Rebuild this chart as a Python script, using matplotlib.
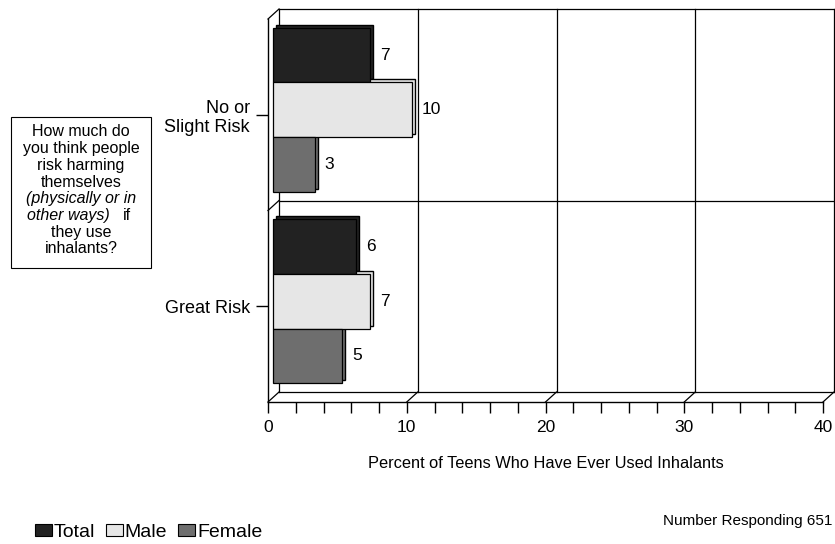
import matplotlib
matplotlib.use("Agg")
import matplotlib.pyplot as plt
import matplotlib.transforms as mtransforms
from matplotlib.patches import Patch, Rectangle
from matplotlib.lines import Line2D

plt.rcParams['font.family'] = ['Liberation Sans', 'DejaVu Sans']

categories = ["No or\nSlight Risk", "Great Risk"]
series_names = ["Total", "Male", "Female"]
total = [7, 6]
male = [10, 7]
female = [3, 5]
xticks = [0, 10, 20, 30, 40]
colors = ["#222222", "#e6e6e6", "#6e6e6e"]

W, H = 835, 544
fig = plt.figure(figsize=(W / 100, H / 100), dpi=100)

# front plane in pixel coordinates
fl, fr, ft, fb = 268, 823, 19, 402
ax = fig.add_axes([fl / W, (H - fb) / H, (fr - fl) / W, (fb - ft) / H])
ax.set_xlim(0, 40)
ax.set_ylim(0, 2)
ax.patch.set_visible(False)
for s in ["top", "right"]:
    ax.spines[s].set_visible(False)
for s in ["bottom", "left"]:
    ax.spines[s].set_linewidth(1.0)

ax.set_xticks(xticks)
ax.set_xticklabels([str(t) for t in xticks], fontsize=12.5)
ax.set_xticks(list(range(0, 41, 2)), minor=True)
ax.tick_params(axis='x', which='both', length=8, width=1, direction='out', pad=5)
ax.set_xlabel("Percent of Teens Who Have Ever Used Inhalants", fontsize=11.8, labelpad=15)

centers = [1.5, 0.5]
ax.set_yticks(centers)
ax.set_yticklabels(categories, fontsize=13, multialignment='right')
ax.tick_params(axis='y', length=9, width=1, direction='out', pad=4)

# back wall
bdx, bdy = 11, 10
tback = ax.transData + mtransforms.Affine2D().translate(bdx, bdy)
lkw = dict(color='black', lw=0.9, clip_on=False, transform=tback)
for yv in [0, 1, 2]:
    ax.plot([0, 40], [yv, yv], **lkw)
for xv in xticks:
    ax.plot([xv, xv], [0, 2], **lkw)

# diagonals connecting front and back
fig.canvas.draw()
diag_pts = [(xv, 0) for xv in xticks] + [(0, 1), (0, 2)]
for pt in diag_pts:
    p0 = ax.transData.transform(pt)
    fig.add_artist(Line2D([p0[0], p0[0] + bdx], [p0[1], p0[1] + bdy],
                          color='black', lw=0.9, transform=None))

# bars
h = 0.2846
sdx = 3
tbar = ax.transData + mtransforms.Affine2D().translate(5, 5)
tshadow = ax.transData + mtransforms.Affine2D().translate(5 + sdx, 5 + sdx)
for i, (vals, col) in enumerate(zip([total, male, female], colors)):
    ys = [c + h * (1 - i) for c in centers]
    ax.barh(ys, vals, height=h, left=0, color=col, edgecolor='black', lw=1.0,
            transform=tshadow, zorder=2, clip_on=False)
for i, (vals, col) in enumerate(zip([total, male, female], colors)):
    ys = [c + h * (1 - i) for c in centers]
    ax.barh(ys, vals, height=h, left=0, color=col, edgecolor='black', lw=0.9,
            transform=tbar, zorder=3, clip_on=False)
    for y, v in zip(ys, vals):
        ax.annotate(str(v), xy=(v, y), xycoords=tbar, xytext=(7, 0),
                    textcoords='offset points', ha='left', va='center',
                    fontsize=12.5, zorder=4)

# question box
bx0, bx1, by0, by1 = 11, 151, 117, 268
fig.add_artist(Rectangle((bx0 / W, 1 - by1 / H), (bx1 - bx0) / W, (by1 - by0) / H,
                         transform=fig.transFigure, facecolor='white',
                         edgecolor='black', lw=0.8))
lines = [("How much do", 'normal'), ("you think people", 'normal'),
         ("risk harming", 'normal'), ("themselves", 'normal'),
         ("(physically or in", 'italic'), (None, None),
         ("they use", 'normal'), ("inhalants?", 'normal')]
cx = (bx0 + bx1) / 2
bfs = 11.5
for k, (txt, st) in enumerate(lines):
    yy = 1 - (132 + k * 16.7) / H
    if txt is None:
        fig.text(110 / W, yy, "other ways)", ha='right', va='center',
                 fontsize=bfs, style='italic')
        fig.text(123 / W, yy, "if", ha='left', va='center', fontsize=bfs)
    else:
        fig.text(cx / W, yy, txt, ha='center', va='center', fontsize=bfs, style=st)

# legend
handles = [Patch(facecolor=c, edgecolor='black', lw=0.8) for c in colors]
fig.legend(handles, series_names, loc='lower left',
           bbox_to_anchor=(35 / W, 3 / H), ncol=3, frameon=False,
           fontsize=14, handlelength=0.88, handleheight=0.62,
           handletextpad=0.08, columnspacing=0.57, borderaxespad=0, borderpad=0)

fig.text(832 / W, 1 - 521 / H, "Number Responding 651", ha='right', va='center',
         fontsize=11)

fig.savefig("out.png", dpi=100)
